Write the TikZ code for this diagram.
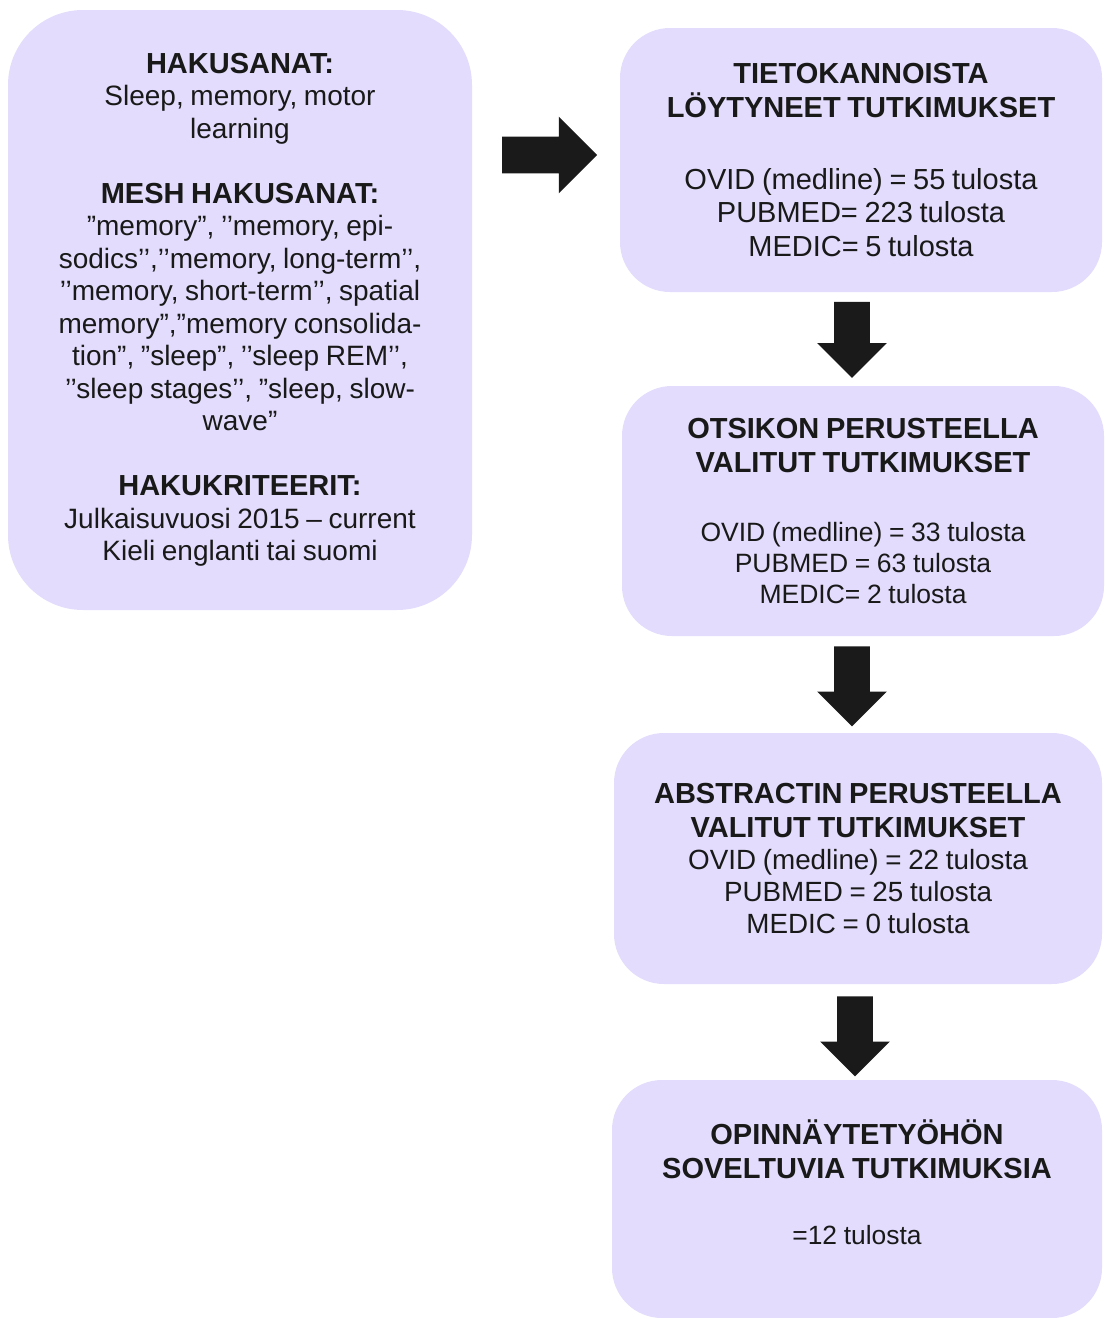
\documentclass[tikz,border=0pt]{standalone}
\usepackage{fontspec}
\setmainfont{Liberation Sans}
\usetikzlibrary{calc,shapes.arrows}
\definecolor{boxfill}{RGB}{227,220,252}
\definecolor{arrowfill}{RGB}{26,26,26}
\newcommand{\titlefont}{\fontsize{14.5}{17}\bfseries}
\newcommand{\datafont}[2]{\fontsize{#1}{#2}\mdseries}
\tikzset{
  box/.style={fill=boxfill, rounded corners=25pt, inner sep=0pt, align=center, text=black!90},
  downarrow/.style={shape=single arrow, fill=arrowfill, rotate=-90, inner xsep=0pt, inner ysep=8.75pt,
    single arrow head extend=8.5pt, minimum height=40pt},
  rightarrow/.style={shape=single arrow, fill=arrowfill, inner xsep=0pt, inner ysep=9pt,
    single arrow head extend=10pt, minimum height=47.5pt}
}

\begin{document}
\begin{tikzpicture}[x=0.5pt, y=-0.5pt]
			%%%%% START %%%%%
			\useasboundingbox (0,0) rectangle (1104,1318);
			
			% hakusanat ja kriteerit
			\node[box, rounded corners=37.5pt, text width=232pt, minimum height=300pt] (haku) at (240,310) {%
				\titlefont HAKUSANAT:\\
				\datafont{14}{16.25}Sleep, memory, motor\\
				learning\\[15.5pt]
				\titlefont MESH HAKUSANAT:\\
				\datafont{14}{16.25}”memory”, ’’memory, epi-\\
				sodics’’,’’memory, long-term’’,\\
				’’memory, short-term’’, spatial\\
				memory”,”memory consolida-\\
				tion”, ”sleep”, ’’sleep REM’’,\\
				’’sleep stages’’, ”sleep, slow-\\
				wave”\\[15.5pt]
				\titlefont HAKUKRITEERIT:\\
				\datafont{14}{16.25}Julkaisuvuosi 2015 – current\\
				Kieli englanti tai suomi\par};
			
			% vaiheet
			\node[box, text width=241pt, minimum height=132pt] (tieto) at (861,160) {%
				\titlefont TIETOKANNOISTA\\
				LÖYTYNEET TUTKIMUKSET\\[19.25pt]
				\datafont{14.5}{16.75}OVID (medline) = 55 tulosta\\
				PUBMED= 223 tulosta\\
				MEDIC= 5 tulosta\par};
			
			\node[box, text width=241pt, minimum height=125pt] (otsikko) at (863,511) {%
				\titlefont OTSIKON PERUSTEELLA\\
				VALITUT TUTKIMUKSET\\[19pt]
				\datafont{13.25}{15.5}OVID (medline) = 33 tulosta\\
				PUBMED = 63 tulosta\\
				MEDIC= 2 tulosta\par};
			
			\node[box, text width=244pt, minimum height=125.5pt] (abstr) at (858,858.5) {%
				\titlefont ABSTRACTIN PERUSTEELLA\\
				VALITUT TUTKIMUKSET\\
				\datafont{13.9}{16}OVID (medline) = 22 tulosta\\
				PUBMED = 25 tulosta\\
				MEDIC = 0 tulosta\par};
			
			\node[box, text width=245pt, minimum height=119pt] (opinn) at (857,1199) {%
				\titlefont OPINNÄYTETYÖHÖN\\
				SOVELTUVIA TUTKIMUKSIA\\[17.8pt]
				\datafont{13.2}{15.2}=12 tulosta\\[1.5pt]
				\mbox{}\par};
			
			% nuolet
			\node[rightarrow] (nuoli0) at ($(haku.east |- tieto.center)!0.5!(tieto.west)+(-5.5,-5)$) {};
			\node[downarrow, minimum height=38pt] (nuoli1) at ($(tieto.south)!0.5!(otsikko.north)+(-10,-8)$) {};
			\node[downarrow] (nuoli2) at ($(otsikko.south)!0.5!(abstr.north)+(-8.5,-7)$) {};
			\node[downarrow] (nuoli3) at ($(abstr.south)!0.5!(opinn.north)+(-2.5,-4.5)$) {};
			
			%%%%% END %%%%%
\end{tikzpicture}
\end{document}
